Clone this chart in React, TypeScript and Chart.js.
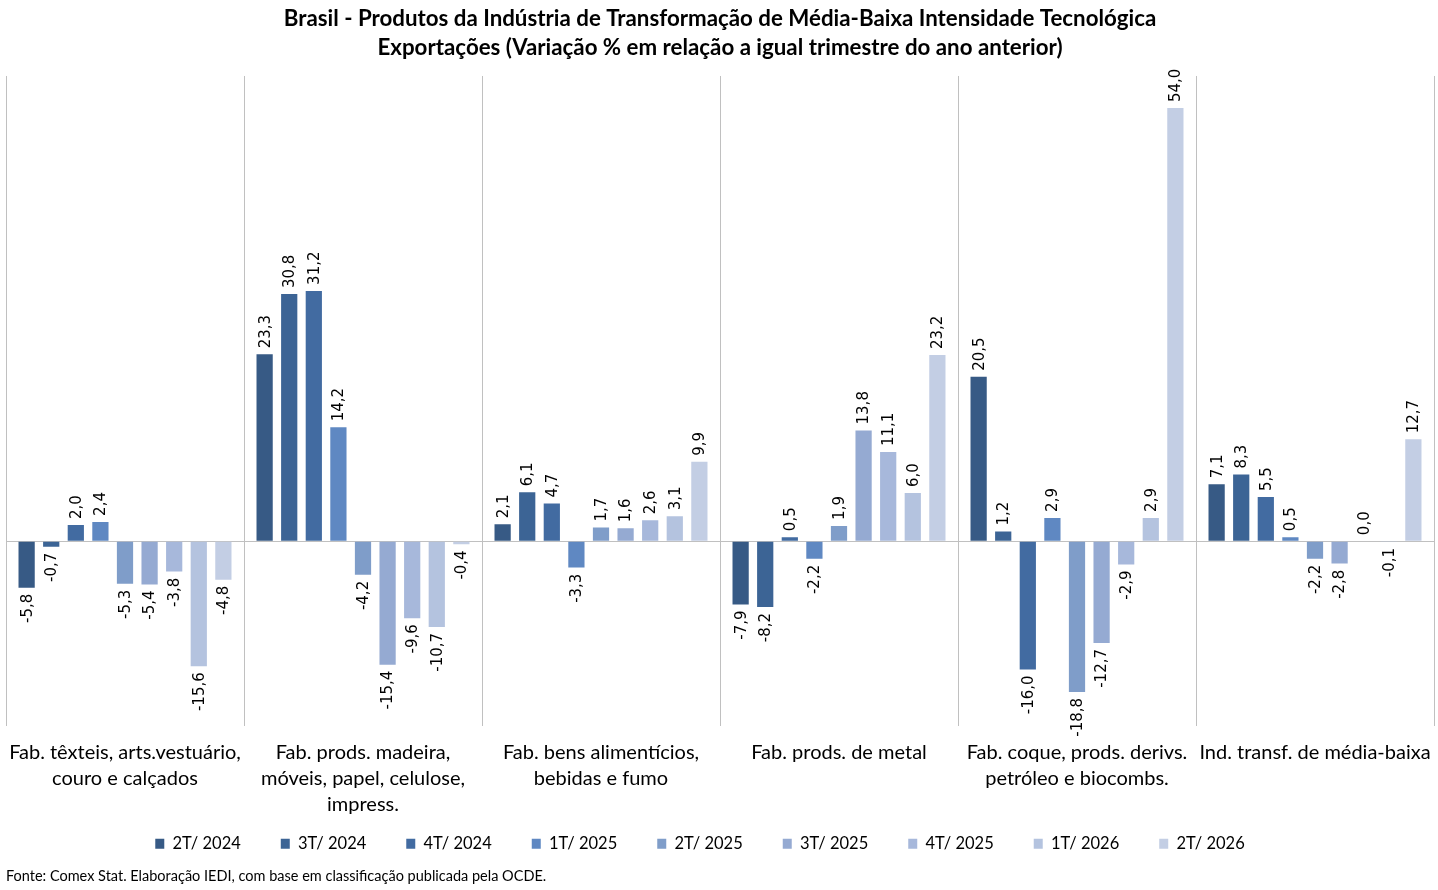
import React, { useEffect, useRef } from "react";
import { Chart, registerables } from "chart.js";

Chart.register(...registerables);

const categories: string[][] = [
  ["Fab. têxteis, arts.vestuário,", "couro e calçados"],
  ["Fab. prods. madeira,", "móveis, papel, celulose,", "impress."],
  ["Fab. bens alimentícios,", "bebidas e fumo"],
  ["Fab. prods. de metal"],
  ["Fab. coque, prods. derivs.", "petróleo e biocombs."],
  ["Ind. transf. de média-baixa"],
];

const seriesLabels = [
  "2T/ 2024",
  "3T/ 2024",
  "4T/ 2024",
  "1T/ 2025",
  "2T/ 2025",
  "3T/ 2025",
  "4T/ 2025",
  "1T/ 2026",
  "2T/ 2026",
];

const s2T2024 = [-5.8, 23.3, 2.1, -7.9, 20.5, 7.1];
const s3T2024 = [-0.7, 30.8, 6.1, -8.2, 1.2, 8.3];
const s4T2024 = [2.0, 31.2, 4.7, 0.5, -16.0, 5.5];
const s1T2025 = [2.4, 14.2, -3.3, -2.2, 2.9, 0.5];
const s2T2025 = [-5.3, -4.2, 1.7, 1.9, -18.8, -2.2];
const s3T2025 = [-5.4, -15.4, 1.6, 13.8, -12.7, -2.8];
const s4T2025 = [-3.8, -9.6, 2.6, 11.1, -2.9, 0.0];
const s1T2026 = [-15.6, -10.7, 3.1, 6.0, 2.9, -0.1];
const s2T2026 = [-4.8, -0.4, 9.9, 23.2, 54.0, 12.7];

const seriesValues = [
  s2T2024,
  s3T2024,
  s4T2024,
  s1T2025,
  s2T2025,
  s3T2025,
  s4T2025,
  s1T2026,
  s2T2026,
];

const seriesColors = [
  "#375a85",
  "#3c6495",
  "#426ba1",
  "#5f88c2",
  "#7f9dc9",
  "#95aad2",
  "#a7b8db",
  "#b4c3df",
  "#c3cee4",
];

const titleLines = [
  "Brasil - Produtos da Indústria de Transformação de Média-Baixa Intensidade Tecnológica",
  "Exportações (Variação % em relação a igual trimestre do ano anterior)",
];
const sourceNote =
  "Fonte: Comex Stat. Elaboração IEDI, com base em classificação publicada pela OCDE.";

const fmt = (v: number) => v.toFixed(1).replace(".", ",");

const valueLabelsPlugin = {
  id: "valueLabels",
  afterDatasetsDraw(chart: any) {
    const ctx = chart.ctx;
    ctx.save();
    ctx.font = "15px 'DejaVu Sans'";
    ctx.fillStyle = "#000000";
    ctx.textBaseline = "middle";
    chart.data.datasets.forEach((ds: any, di: number) => {
      const meta = chart.getDatasetMeta(di);
      if (meta.hidden) return;
      meta.data.forEach((el: any, i: number) => {
        const v = ds.data[i] as number;
        const gap = 6;
        ctx.save();
        if (v >= 0) {
          ctx.translate(el.x, el.y - gap);
          ctx.rotate(-Math.PI / 2);
          ctx.textAlign = "left";
        } else {
          ctx.translate(el.x, el.y + gap);
          ctx.rotate(-Math.PI / 2);
          ctx.textAlign = "right";
        }
        ctx.fillText(fmt(v), 0, 1);
        ctx.restore();
      });
    });
    ctx.restore();
  },
};

// Legend uses a wide horizontal gap; move it up next to the axis labels.
const legendPlacePlugin = {
  id: "legendPlace",
  afterLayout(chart: any) {
    const lg = chart.legend;
    if (!lg) return;
    const pad = lg.options.labels.padding;
    const targetCenter = chart.chartArea.bottom + 118;
    const newTop = targetCenter - pad - 8;
    lg.top = newTop;
    lg.bottom = targetCenter + 14;
    lg.height = lg.bottom - lg.top;
    lg.left -= 20;
    lg.right -= 20;
  },
};

export default function App() {
  const canvasRef = useRef<HTMLCanvasElement | null>(null);

  useEffect(() => {
    document.body.style.margin = "0";
    const canvas = canvasRef.current;
    if (!canvas) return;
    const chart = new Chart(canvas, {
      type: "bar",
      data: {
        labels: categories,
        datasets: seriesLabels.map((label, i) => ({
          label,
          data: seriesValues[i],
          backgroundColor: seriesColors[i],
          borderWidth: 0,
          categoryPercentage: 0.93,
          barPercentage: 0.66,
        })),
      },
      options: {
        responsive: false,
        animation: false,
        layout: { padding: { left: 6, right: 4, top: 0, bottom: 0 } },
        scales: {
          x: {
            grid: {
              offset: true,
              color: "#c0c0c0",
              lineWidth: 1,
              drawTicks: false,
            },
            border: { display: false },
            ticks: {
              color: "#000000",
              font: { family: "Lato", size: 20, lineHeight: 1.3 },
              padding: 14,
              maxRotation: 0,
              minRotation: 0,
              autoSkip: false,
            },
            afterFit: (scale: any) => {
              scale.height = 92;
              scale.paddingLeft = 0;
              scale.paddingRight = 0;
            },
          },
          y: {
            min: -23,
            max: 58,
            ticks: { display: false, stepSize: 10 },
            grid: {
              drawTicks: false,
              color: (c: any) => (c.tick && c.tick.value === 0 ? "#c0c0c0" : "rgba(0,0,0,0)"),
              lineWidth: 1,
            },
            border: { display: false },
          },
        },
        plugins: {
          title: {
            display: true,
            text: titleLines,
            color: "#000000",
            font: { family: "Lato", size: 22.3, weight: "bold", lineHeight: 1.3 },
            padding: { top: 4, bottom: 14 },
          },
          subtitle: {
            display: true,
            text: sourceNote,
            position: "bottom",
            align: "start",
            color: "#000000",
            font: { family: "Lato", size: 14.5, lineHeight: 1.2 },
            padding: { top: 0, bottom: 5 },
          },
          legend: {
            display: true,
            position: "bottom",
            maxHeight: 50,
            labels: {
              boxWidth: 9,
              boxHeight: 10,
              padding: 40,
              color: "#000000",
              font: { family: "Lato", size: 16.5 },
            },
          },
          tooltip: { enabled: false },
        },
      } as any,
      plugins: [valueLabelsPlugin, legendPlacePlugin],
    });
    return () => chart.destroy();
  }, []);

  return (
    <div style={{ width: 1438, height: 890, background: "#ffffff" }}>
      <canvas ref={canvasRef} width={1438} height={890} style={{ display: "block" }} />
    </div>
  );
}
